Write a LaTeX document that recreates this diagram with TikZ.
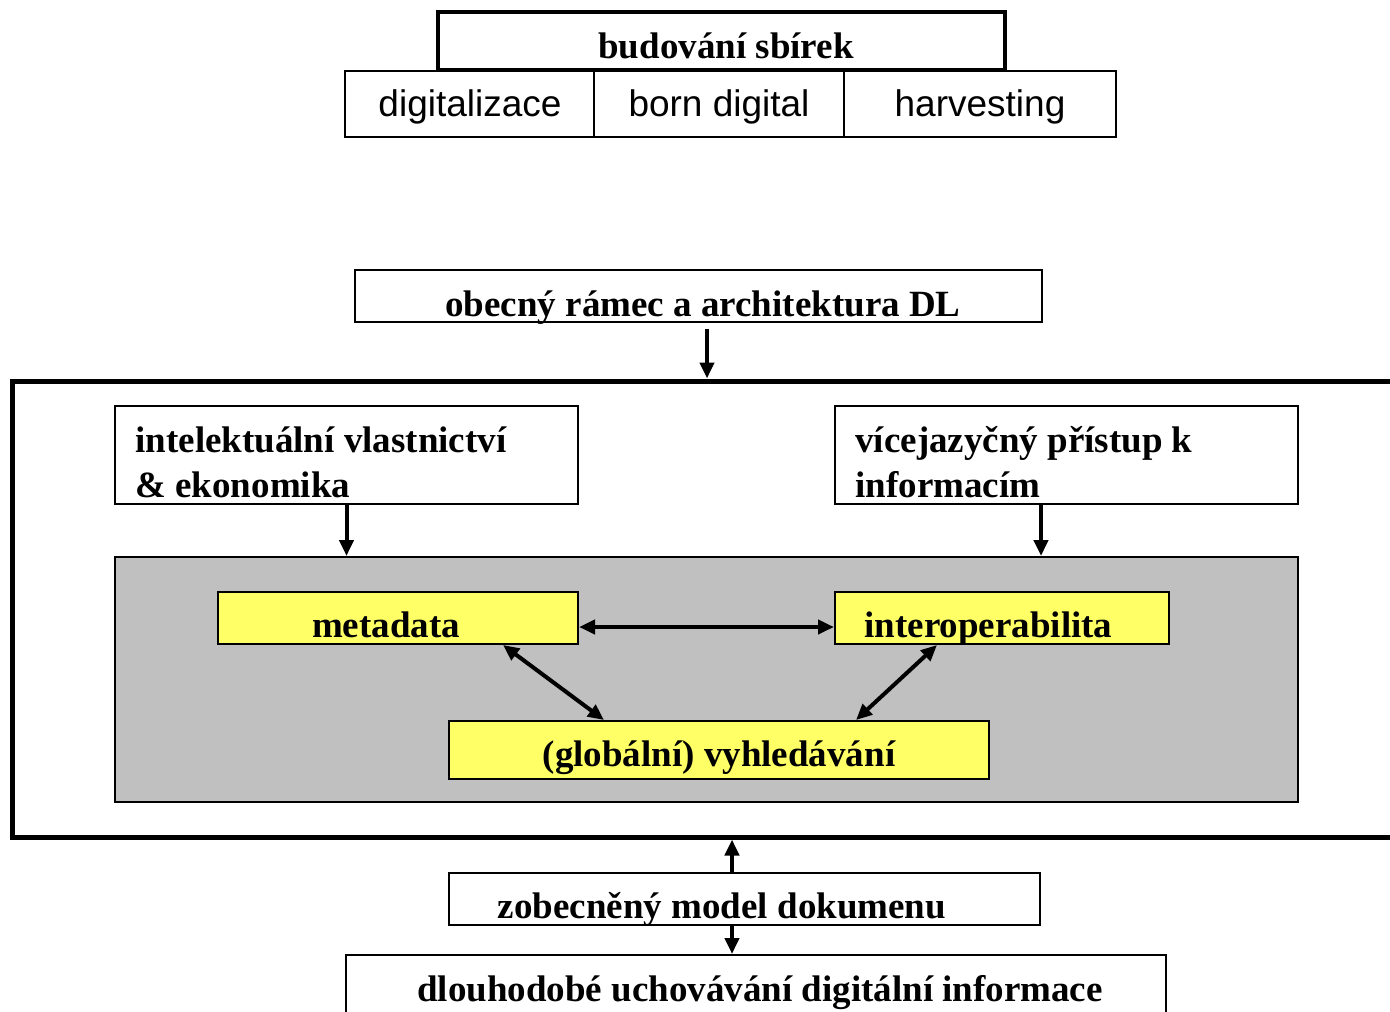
\documentclass[tikz,border=0pt]{standalone}
\usepackage{fontspec}
\setmainfont{Liberation Serif}
\setsansfont{Liberation Sans}
\usetikzlibrary{arrows.meta}
\definecolor{boxgray}{HTML}{C0C0C0}
\definecolor{boxyellow}{HTML}{FFFF66}
\begin{document}
\begin{tikzpicture}[x=0.5pt,y=-0.5pt,
  box/.style={draw, inner sep=0pt, line width=1pt},
  lbl/.style={inner sep=0pt, anchor=base, font=\fontsize{18.5}{22}\selectfont\bfseries},
  slbl/.style={inner sep=0pt, anchor=base, font=\fontsize{18.5}{22}\selectfont\sffamily},
  arr/.style={line width=2pt, -{Triangle[length=8pt,width=7pt]}},
  darr/.style={line width=2pt, {Triangle[length=8pt,width=7pt]}-{Triangle[length=8pt,width=7pt]}}
]
\useasboundingbox (0,0) rectangle (1390,1011);
\fill[white] (0,0) rectangle (1390,1011);

% top group
\node[box, line width=2pt, minimum width=283.5pt, minimum height=29pt] (bud) at (721.5,41) {};
\node[lbl] (budt) at (726,59) {budování sbírek};
\node[box, minimum width=124.5pt, minimum height=33pt] (dig) at (469.5,104) {};
\node[box, minimum width=125pt, minimum height=33pt] (born) at (719,104) {};
\node[box, minimum width=136pt, minimum height=33pt] (harv) at (980,104) {};
\node[slbl] (digt) at (470,117) {digitalizace};
\node[slbl] (bornt) at (719,117) {born digital};
\node[slbl] (harvt) at (980,117) {harvesting};

% framework
\node[box, minimum width=343.5pt, minimum height=26pt] (obec) at (698.5,296) {};
\node[lbl] (obect) at (703,316) {obecný rámec a architektura DL};

% big frame
\node[box, line width=2.5pt, minimum width=704pt, minimum height=228pt] (dl) at (716,609) {};

\node[box, minimum width=231.5pt, minimum height=49pt] (ip) at (346.5,455) {};
\node[lbl, anchor=base west] (ipt1) at (135,452) {intelektuální vlastnictví};
\node[lbl, anchor=base west] (ipt2) at (135,497) {\& ekonomika};
\node[box, minimum width=231.5pt, minimum height=49pt] (ml) at (1066.5,455) {};
\node[lbl, anchor=base west] (mlt1) at (855,452) {vícejazyčný přístup k};
\node[lbl, anchor=base west] (mlt2) at (855,497) {informacím};

\node[box, fill=boxgray, minimum width=591.5pt, minimum height=122.5pt] (gray) at (706.5,679.5) {};
\node[box, fill=boxyellow, minimum width=180pt, minimum height=26pt] (meta) at (398,618) {};
\node[lbl] (metat) at (386,637) {metadata};
\node[box, fill=boxyellow, minimum width=167pt, minimum height=26pt] (inter) at (1002,618) {};
\node[lbl, anchor=base west] (intert) at (864,637) {interoperabilita};
\node[box, fill=boxyellow, minimum width=270pt, minimum height=29pt] (glob) at (719,750) {};
\node[lbl] (globt) at (719,766) {(globální) vyhledávání};

% bottom
\node[box, minimum width=295.5pt, minimum height=26pt] (zob) at (744.5,899) {};
\node[lbl] (zobt) at (722,918) {zobecněný model dokumenu};
\node[box, minimum width=410pt, minimum height=42.5pt] (dlou) at (756,997.5) {};
\node[lbl] (dlout) at (760,1001) {dlouhodobé uchovávání digitální informace};

% connector anchor columns / rows
\coordinate (c1) at (707,0);
\coordinate (c2) at (1041,0);
\coordinate (c3) at (732,0);
\coordinate (r1) at (0,627);
\coordinate (m1) at (503,645);
\coordinate (g1) at (604,720);
\coordinate (i1) at (937,645);
\coordinate (g2) at (856,720);

\draw[arr, shorten <=3pt] (obec.south -| c1) -- (dl.north -| c1);
\draw[arr] (ip.south) -- (ip.south |- gray.north);
\draw[arr] (ml.south -| c2) -- (gray.north -| c2);
\draw[darr] (meta.east |- r1) -- (inter.west |- r1);
\draw[darr] (m1) -- (g1);
\draw[darr] (i1) -- (g2);
\draw[arr] (zob.north -| c3) -- (dl.south -| c3);
\draw[arr] (zob.south -| c3) -- (dlou.north -| c3);
\end{tikzpicture}
\end{document}
